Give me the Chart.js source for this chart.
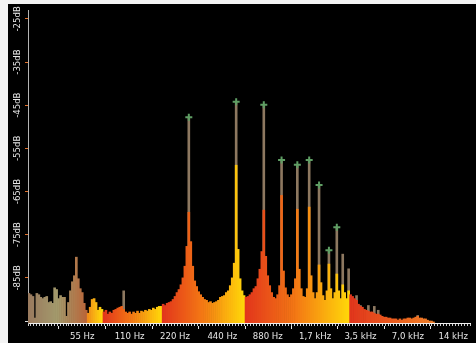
<!DOCTYPE html>
<html>
<head>
<meta charset="utf-8">
<script src="https://cdn.jsdelivr.net/npm/chart.js@4.4.1/dist/chart.umd.min.js"></script>
<style>
  html, body { margin: 0; padding: 0; background: #f3f3f3; }
  #wrap { position: absolute; left: 8px; top: 4px; width: 468px; height: 339px; background: #000; }
  canvas { display: block; }
</style>
</head>
<body>
<div id="wrap"><canvas id="spectrum" width="468" height="339"></canvas></div>
<script>
// level of each analysis bin (dB), low to high frequency, log spaced
const spectrumDb = [
  -88.6, -88.9, -89.3, -94.3, -88.6, -88.9, -89.5, -89.8, -89.5, -89.3, -90.7, -90.5, -90.9, -87.3, -87.7, -89.8,
  -89.1, -89.5, -89.5, -93.9, -90.7, -88.0, -85.9, -84.5, -80.2, -85.2, -87.5, -88.4, -90.9, -92.5, -93.2, -91.8,
  -90.0, -89.8, -90.7, -92.5, -91.8, -92.3, -92.9, -92.5, -93.4, -92.9, -93.2, -92.5, -92.3, -92.0, -91.8, -91.6,
  -92.3, -92.9, -93.2, -92.9, -93.4, -92.9, -93.2, -92.7, -93.2, -92.7, -92.9, -92.5, -92.7, -92.3, -92.5, -92.0,
  -92.3, -91.8, -91.6, -91.6, -91.1, -91.4, -90.9, -90.7, -90.5, -90.0, -89.3, -88.4, -87.7, -86.6, -85.0, -82.3,
  -77.7, -69.8, -76.6, -82.3, -85.7, -87.0, -88.2, -88.9, -89.5, -90.0, -90.2, -90.7, -90.5, -90.9, -90.7, -90.5,
  -90.2, -89.5, -89.3, -89.1, -88.4, -88.0, -86.8, -85.0, -81.6, -58.9, -78.4, -85.2, -88.0, -89.1, -89.5, -89.3,
  -88.9, -88.4, -87.5, -87.0, -85.2, -83.0, -78.9, -69.3, -80.0, -84.5, -86.8, -88.4, -89.5, -89.8, -88.9, -86.8,
  -65.9, -83.4, -87.3, -88.9, -89.5, -88.9, -87.5, -85.2, -69.1, -83.0, -87.5, -89.3, -89.5, -87.5, -68.6, -84.5,
  -88.4, -89.8, -88.4, -82.0, -86.1, -89.1, -90.2, -88.0, -81.8, -87.5, -89.8, -88.4, -84.1, -88.0, -89.8, -86.6,
  -88.4, -89.8, -88.0, -88.9, -89.3, -89.8, -90.2, -91.1, -91.6, -91.8, -92.3, -92.5, -92.7, -92.9, -92.9, -93.2,
  -93.4, -93.4, -93.6, -93.9, -94.1, -94.1, -94.3, -94.3, -94.5, -94.5, -94.5, -94.8, -94.5, -94.8, -94.5, -94.5,
  -94.3, -94.3, -94.5, -94.3, -94.1, -93.9, -94.3, -94.3, -94.5, -94.5, -94.8, -95.0, -95.0, -95.2, null, null,
  null, null, null, null, null, null, null, null, null, null, null, null, null, null, null, null,
];

// partials: bin index and peak level (dB)
const peakBins = [48, 81, 105, 119, 128, 136, 142, 147, 152, 156, 159, 162, 166, 168, 172, 175, 177, 197];
const peakDb = [-88.0, -47.8, -44.2, -44.9, -57.7, -58.8, -57.7, -63.5, -78.6, -73.3, -79.5, -82.9, -89.1, -91.4, -91.4, -91.6, -92.5, -93.7];
// partials that carry a "+" marker
const markedBins = [81, 105, 119, 128, 136, 142, 147, 152, 156];

const xTickBins = [27, 51, 74, 98, 121, 145, 168, 192, 215];
const xTickLabels = ["55 Hz", "110 Hz", "220 Hz", "440 Hz", "880 Hz", "1,7 kHz", "3,5 kHz", "7,0 kHz", "14 kHz"];

const yTickValues = [-25, -35, -45, -55, -65, -75, -85];
const yTickLabels = ["-25dB", "-35dB", "-45dB", "-55dB", "-65dB", "-75dB", "-85dB"];
const yMinorTicks = [-30, -40, -50, -60, -70, -80, -90, -95];

const Y_MIN = -95.45;
const Y_MAX = -22.95;

const FONT = "'Liberation Sans Narrow', 'DejaVu Sans Condensed', sans-serif";
const RED = "#e2361c";
const ORANGE = "#f47a14";
const YELLOW = "#ffd60a";
const TAN = "#8d7860";
const TICK_ORANGE = "#e0702a";

// colour ramps along the bins (red -> yellow per band)
const bands = [
  { from: 0, to: 29, stops: ["#9a7a5e", "#a39a6c", "#b8663a"] },
  { from: 30, to: 37, stops: ["#f08c18", "#f8b412", YELLOW] },
  { from: 38, to: 67, stops: [RED, ORANGE, YELLOW] },
  { from: 68, to: 109, stops: [RED, ORANGE, YELLOW] },
  { from: 110, to: 162, stops: [RED, ORANGE, YELLOW] },
  { from: 163, to: 223, stops: [RED, "#ec6a1e", "#f4a040"] },
];

function hexToRgb(h) {
  const n = parseInt(h.slice(1), 16);
  return [(n >> 16) & 255, (n >> 8) & 255, n & 255];
}

function mix(a, b, t) {
  const A = hexToRgb(a), B = hexToRgb(b);
  const c = A.map((v, i) => Math.round(v + (B[i] - v) * t));
  return `rgb(${c[0]},${c[1]},${c[2]})`;
}

function binColor(i) {
  const band = bands.find((b) => i >= b.from && i <= b.to) || bands[bands.length - 1];
  const t = (i - band.from) / Math.max(1, band.to - band.from);
  const [s0, s1, s2] = band.stops;
  return t < 0.5 ? mix(s0, s1, t * 2) : mix(s1, s2, (t - 0.5) * 2);
}

const binLabels = spectrumDb.map((_, i) => i);
const peakData = spectrumDb.map(() => null);
peakBins.forEach((b, k) => { peakData[b] = peakDb[k]; });
const markerData = spectrumDb.map(() => null);
markedBins.forEach((b) => { markerData[b] = peakDb[peakBins.indexOf(b)]; });

const el = document.getElementById("spectrum");

new Chart(el, {
  type: "bar",
  data: {
    labels: binLabels,
    datasets: [
      {
        type: "line",
        data: markerData,
        showLine: false,
        pointStyle: "cross",
        pointRadius: 3.5,
        pointBorderWidth: 2,
        pointBorderColor: "#5f9e64",
        pointBackgroundColor: "#5f9e64",
        order: 0,
      },
      {
        type: "bar",
        data: spectrumDb,
        backgroundColor: (c) => binColor(c.dataIndex),
        borderWidth: 0,
        grouped: false,
        base: Y_MIN,
        barPercentage: 1,
        categoryPercentage: 1,
        order: 1,
      },
      {
        type: "bar",
        data: peakData,
        backgroundColor: TAN,
        borderWidth: 0,
        grouped: false,
        base: Y_MIN,
        barPercentage: 1,
        categoryPercentage: 1,
        order: 2,
      },
    ],
  },
  options: {
    responsive: false,
    animation: false,
    events: [],
    layout: { padding: 0 },
    plugins: { legend: { display: false }, tooltip: { enabled: false } },
    scales: {
      x: {
        type: "category",
        position: "bottom",
        weight: 1,
        offset: true,
        grid: { drawOnChartArea: false, tickLength: 3, color: "#e6e6e6" },
        border: { display: false },
        ticks: {
          autoSkip: false,
          minRotation: 0,
          maxRotation: 0,
          padding: 2,
          color: "#e6e6e6",
          font: { family: FONT, size: 9.5 },
          callback: (v) => {
            const k = xTickBins.indexOf(v);
            return k >= 0 ? xTickLabels[k] : "";
          },
        },
        afterBuildTicks: (s) => { s.ticks = xTickBins.map((v) => ({ value: v })); },
        afterFit: (s) => { s.height = 17; s.paddingLeft = 0; s.paddingRight = 0; },
      },
      x2: {
        type: "linear",
        position: "bottom",
        weight: 0,
        min: 0,
        max: 150,
        ticks: { display: false, stepSize: 1 },
        grid: { drawOnChartArea: false, tickLength: 3, color: "#cfcfcf" },
        border: { color: "#f0f0f0", width: 1 },
      },
      y: {
        position: "left",
        min: Y_MIN,
        max: Y_MAX,
        grid: {
          drawOnChartArea: false,
          tickLength: 3,
          color: (c) => (c.tick && yTickValues.includes(c.tick.value) ? TICK_ORANGE : "#dcdcdc"),
        },
        border: { color: "#b4b4b4", width: 1 },
        ticks: {
          minRotation: 90,
          maxRotation: 90,
          crossAlign: "center",
          padding: -5,
          color: "#e6e6e6",
          font: { family: FONT, size: 9.5 },
          callback: (v) => {
            const k = yTickValues.indexOf(v);
            return k >= 0 ? yTickLabels[k] : "";
          },
        },
        afterBuildTicks: (s) => {
          s.ticks = yTickValues.concat(yMinorTicks).sort((a, b) => b - a).map((v) => ({ value: v }));
        },
        afterFit: (s) => { s.width = 20; s.paddingTop = 0; s.paddingBottom = 0; },
      },
    },
  },
});
</script>
</body>
</html>
